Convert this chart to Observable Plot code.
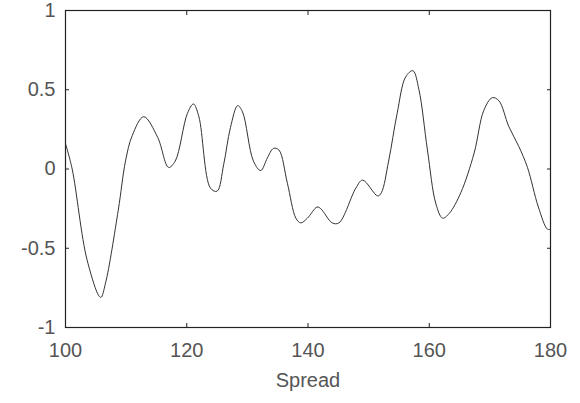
<!DOCTYPE html>
<html>
<head>
<meta charset="utf-8">
<script src="https://cdn.jsdelivr.net/npm/d3@7"></script>
<script src="https://cdn.jsdelivr.net/npm/@observablehq/plot@0.6"></script>
<style>
  html, body { margin: 0; padding: 0; background: #fff; }
  #chart { width: 580px; height: 403px; }
</style>
</head>
<body>
<div id="chart"></div>
<script>
const spread = [100, 101.1, 103.6, 105.8, 106.6, 108.7, 109.9, 111, 112.9, 115.2, 117, 118.1, 120.1, 121.1, 122, 123.9, 125, 126.1, 127.2, 128.4, 129.2, 131, 132.2, 133.3, 134.3, 135.2, 136.6, 138, 138.8, 139.9, 141.5, 142.1, 144, 145.1, 147.9, 149, 151.5, 152.1, 153.3, 154.7, 156.1, 157.3, 158.3, 159.7, 161.1, 162.2, 163.3, 165.2, 167.4, 169, 170.4, 171.5, 173.1, 174.8, 176.2, 178, 179.5, 180];
const value = [0.16, 0, -0.58, -0.81, -0.72, -0.26, 0.05, 0.21, 0.33, 0.2, 0.01, 0.05, 0.35, 0.41, 0.33, -0.12, -0.14, 0.03, 0.26, 0.4, 0.36, 0.05, -0.01, 0.07, 0.13, 0.12, -0.09, -0.31, -0.34, -0.31, -0.24, -0.25, -0.34, -0.34, -0.12, -0.07, -0.17, -0.15, 0.05, 0.35, 0.58, 0.62, 0.5, 0.12, -0.22, -0.31, -0.28, -0.15, 0.1, 0.37, 0.45, 0.43, 0.27, 0.14, 0.01, -0.24, -0.38, -0.38];
const xTicks = [100, 120, 140, 160, 180];
const yTicks = [-1, -0.5, 0, 0.5, 1];
const yTickLabels = ["-1", "-0.5", "0", "0.5", "1"];
const xLabel = "Spread";

const data = spread.map((s, i) => ({s, v: value[i]}));

const chart = Plot.plot({
  width: 580,
  height: 403,
  marginLeft: 65,
  marginRight: 30,
  marginTop: 10,
  marginBottom: 76,
  style: {fontFamily: "Liberation Sans, Arial, sans-serif", fontSize: "20px", color: "#555", background: "#fff"},
  x: {domain: [100, 180]},
  y: {domain: [-1, 1]},
  marks: [
    Plot.frame({stroke: "#222", strokeWidth: 1.2}),
    Plot.axisX({anchor: "bottom", ticks: xTicks, tickSize: -4, tickPadding: 19, stroke: "#222", fill: "#555", label: null, fontSize: 20}),
    Plot.axisX({anchor: "top", ticks: xTicks, tickSize: -4, tickFormat: () => "", stroke: "#222", label: null}),
    Plot.axisY({anchor: "left", ticks: yTicks, tickFormat: (d) => yTickLabels[yTicks.indexOf(d)], tickSize: -4, tickPadding: 14, stroke: "#222", fill: "#555", label: null, fontSize: 20}),
    Plot.axisY({anchor: "right", ticks: yTicks, tickSize: -4, tickFormat: () => "", stroke: "#222", label: null}),
    Plot.text([xLabel], {frameAnchor: "bottom", dy: 59, fontSize: 20, fill: "#555"}),
    Plot.line(data, {x: "s", y: "v", stroke: "#333", strokeWidth: 1, curve: "catmull-rom"})
  ]
});
document.getElementById("chart").appendChild(chart);
</script>
</body>
</html>
